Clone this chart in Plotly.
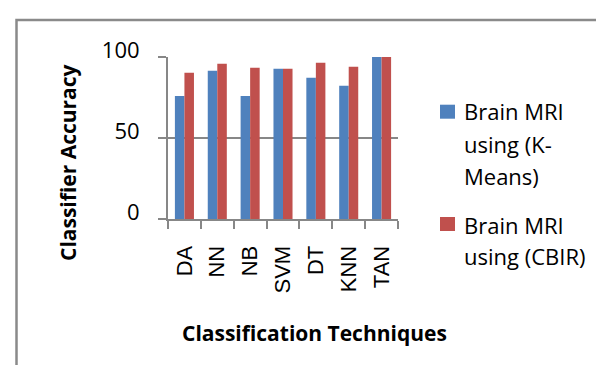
import plotly.graph_objects as go

categories = ["DA", "NN", "NB", "SVM", "DT", "KNN", "TAN"]
kmeans_acc = [76.0, 91.5, 76.0, 92.8, 87.2, 82.3, 100.0]
cbir_acc = [90.3, 95.9, 93.4, 92.8, 96.5, 94.0, 100.0]
series_names = ["Brain MRI using (K-Means)", "Brain MRI using (CBIR)"]
legend_lines = [["Brain MRI", "using (K-", "Means)"], ["Brain MRI", "using (CBIR)"]]
y_ticks = [0, 50, 100]
x_title = "Classification Techniques"
y_title = "Classifier Accuracy"

BLUE = "#4F81BD"
RED = "#C0504D"
GRID = "#878787"

W, H = 604, 365
L, R, T, B = 160, 390, 49, 211

fig = go.Figure()
fig.add_trace(go.Bar(x=categories, y=kmeans_acc, name=series_names[0],
                     marker=dict(color=BLUE, line=dict(width=0)), showlegend=False))
fig.add_trace(go.Bar(x=categories, y=cbir_acc, name=series_names[1],
                     marker=dict(color=RED, line=dict(width=0)), showlegend=False))

fig.update_layout(
    width=W, height=H,
    margin=dict(l=L, r=W - R, t=T, b=H - B, pad=0),
    paper_bgcolor="white", plot_bgcolor="white",
    barmode="group", bargap=0.42, bargroupgap=0,
    xaxis=dict(
        type="category", tickson="boundaries", ticks="outside", ticklen=8,
        tickwidth=2, tickcolor=GRID, showline=True, linecolor=GRID, linewidth=2,
        showgrid=False, tickangle=-90, ticklabelstandoff=16,
        tickfont=dict(family="Liberation Sans, Arial", size=22, color="black"),
    ),
    yaxis=dict(
        range=[0, 100], tickvals=y_ticks, ticks="outside", ticklen=8, tickwidth=2,
        tickcolor=GRID, showline=True, linecolor=GRID, linewidth=2,
        showgrid=True, gridcolor=GRID, gridwidth=2, zeroline=False,
        ticklabelstandoff=14, ticklabelshift=-7,
        tickfont=dict(family="Open Sans", size=22, color="black"),
    ),
)

ann = []
# axis titles
ann.append(dict(text="<b>%s</b>" % y_title, xref="paper", yref="paper", x=0, y=1,
                xanchor="center", yanchor="middle", xshift=60 - L, yshift=-(155 - T),
                textangle=-90, showarrow=False,
                font=dict(family="Open Sans", size=21, color="black")))
ann.append(dict(text="<b>%s</b>" % x_title, xref="paper", yref="paper", x=0, y=1,
                xanchor="center", yanchor="middle", xshift=306 - L, yshift=-(325 - T),
                showarrow=False,
                font=dict(family="Open Sans", size=21, color="black")))

# legend drawn manually for exact line spacing
line_y = [[103, 136, 168], [217, 248]]
marker_y = [(96.7, 110.7), (209.0, 223.0)]
colors = [BLUE, RED]
shapes = []
for i, lines in enumerate(legend_lines):
    for j, txt in enumerate(lines):
        ann.append(dict(text=txt, xref="paper", yref="paper", x=1, y=1,
                        xanchor="left", yanchor="middle", xshift=454 - R,
                        yshift=-(line_y[i][j] - T), showarrow=False,
                        font=dict(family="Open Sans", size=22, color="black")))
    y0, y1 = marker_y[i]
    shapes.append(dict(type="rect", xref="paper", yref="paper",
                       xsizemode="pixel", ysizemode="pixel", xanchor=1, yanchor=1,
                       x0=432 - R, x1=447 - R, y0=-(y0 - T), y1=-(y1 - T),
                       fillcolor=colors[i], line=dict(width=0)))

# outer chart border (partially visible)
shapes.append(dict(type="rect", xref="paper", yref="paper",
                   xsizemode="pixel", ysizemode="pixel", xanchor=0, yanchor=1,
                   x0=8.5 - L, x1=800, y0=T - 12, y1=-500,
                   line=dict(color="#8a8a8a", width=2.5), fillcolor="rgba(0,0,0,0)",
                   layer="below"))

fig.update_layout(annotations=ann, shapes=shapes)
fig.write_html("out.html")
